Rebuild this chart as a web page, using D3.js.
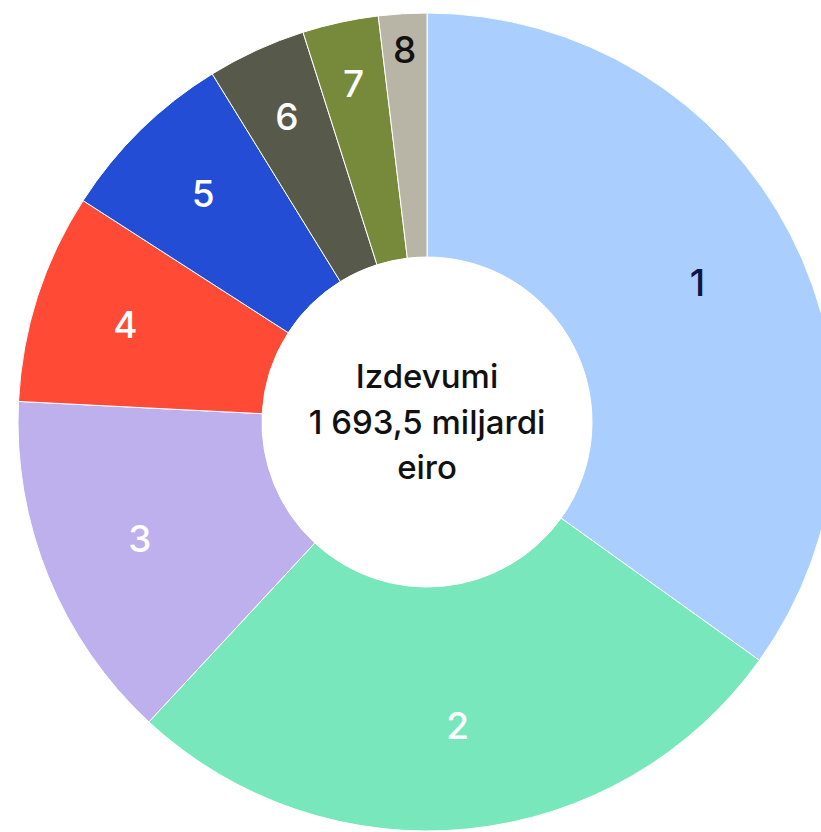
<!DOCTYPE html>
<html lang="lv">
<head>
<meta charset="utf-8">
<title>Izdevumi</title>
<script src="https://d3js.org/d3.v7.min.js"></script>
<style>
  html, body { margin: 0; padding: 0; background: #fff; }
  svg { display: block; font-family: "Inter", "Noto Sans", sans-serif; }
</style>
</head>
<body>
<svg id="chart"></svg>
<script>
// headings 1..8, billions of euro
const headings = ["1", "2", "3", "4", "5", "6", "7", "8"];
const values = [591.0, 457.2, 235.4, 140.6, 120.2, 66.0, 50.8, 32.2];
const colors = ["#aacfff", "#78e8bc", "#bdb0ec", "#ff4b35", "#244dd6", "#575a4a", "#778a3c", "#b8b5a6"];
const labelColors = ["#0e1446", "#fff", "#fff", "#fff", "#fff", "#fff", "#fff", "#111"];
const centerLines = ["Izdevumi", "1 693,5 miljardi", "eiro"];

const width = 821, height = 832;
const cx = 427, cy = 422;
const outerR = 409, innerR = 165;

const svg = d3.select("#chart").attr("width", width).attr("height", height);
const g = svg.append("g").attr("transform", `translate(${cx},${cy})`);

const data = headings.map((h, i) => ({ h, v: values[i], i }));
const pie = d3.pie().sort(null).value(d => d.v);
const arcs = pie(data);
const arc = d3.arc().innerRadius(innerR).outerRadius(outerR);

g.selectAll("path.slice")
  .data(arcs)
  .enter().append("path")
  .attr("class", "slice")
  .attr("d", arc)
  .attr("fill", d => colors[d.data.i])
  .attr("stroke", "#fff")
  .attr("stroke-width", 1);

// narrow slices get their label pushed outward
g.selectAll("text.lbl")
  .data(arcs)
  .enter().append("text")
  .attr("class", "lbl")
  .attr("transform", d => {
    const deg = (d.endAngle - d.startAngle) * 180 / Math.PI;
    const r = 300 + 500 / deg;
    const a = (d.startAngle + d.endAngle) / 2;
    return `translate(${r * Math.sin(a)},${-r * Math.cos(a)})`;
  })
  .attr("text-anchor", "middle")
  .attr("dy", "0.36em")
  .attr("fill", d => labelColors[d.data.i])
  .style("font-size", "37px")
  .style("font-weight", 500)
  .text(d => d.data.h);

g.append("circle").attr("r", innerR).attr("fill", "#fff");

g.selectAll("text.center")
  .data(centerLines)
  .enter().append("text")
  .attr("class", "center")
  .attr("text-anchor", "middle")
  .attr("y", (d, i) => -34 + i * 45.5)
  .attr("fill", "#111")
  .style("font-size", "33px")
  .style("font-weight", 500)
  .text(d => d);
</script>
</body>
</html>
